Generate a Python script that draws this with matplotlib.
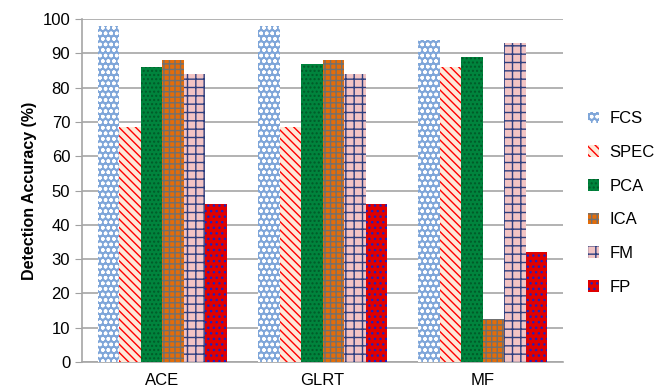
import numpy as np
import matplotlib.pyplot as plt

plt.rcParams['font.family'] = ['Liberation Sans', 'DejaVu Sans']
plt.rcParams['hatch.linewidth'] = 1.0

# Data
categories = ["ACE", "GLRT", "MF"]
methods = ["FCS", "SPEC", "PCA", "ICA", "FM", "FP"]
fcs = [98, 98, 94]
spec = [68.5, 68.5, 86]
pca = [86, 87, 89]
ica = [88, 88, 12.5]
fm = [84, 84, 93]
fp = [46, 46, 32]
series = [fcs, spec, pca, ica, fm, fp]

# fill patterns (face, hatch, hatch colour)
styles = [
    ("#7FA6D9", "ooo", "white"),
    ("#FDE9D9", "\\\\\\\\", "#FF0000"),
    ("#00843D", "....", "#005A28"),
    ("#E36C09", "+++", "#707070"),
    ("#F2C4C4", "--||", "#2E3F7F"),
    ("#E00000", "...", "#2020C0"),
]

fig = plt.figure(figsize=(6.61, 3.88), dpi=100)
ax = fig.add_axes([0.124, 0.067, 0.728, 0.884])

x = np.arange(len(categories))
width = 0.134

for i, (vals, (face, hatch, hcol)) in enumerate(zip(series, styles)):
    pos = x + (i - 2.5) * width
    ax.bar(
        pos,
        vals,
        width,
        color=face,
        edgecolor=hcol,
        hatch=hatch,
        linewidth=0,
        label=methods[i],
        zorder=3
    )

ax.set_xlim(-0.5, 2.5)
ax.set_ylim(0, 100)
ax.set_yticks(range(0, 101, 10))
ax.set_xticks(x)
ax.set_xticklabels(categories, fontsize=12)
ax.tick_params(axis="y", labelsize=12, length=5, color="#A0A0A0")
ax.tick_params(axis="x", length=0, pad=8)
ax.set_ylabel("Detection Accuracy (%)", fontsize=11.5, fontweight="bold")

ax.grid(axis="y", color="#A6A6A6", linewidth=1.2, zorder=0)
for side in ["top", "right"]:
    ax.spines[side].set_visible(False)
ax.spines["left"].set_color("#A6A6A6")
ax.spines["bottom"].set_color("#A6A6A6")
ax.spines["left"].set_linewidth(1.2)
ax.spines["bottom"].set_linewidth(1.2)

ax.legend(
    loc="center left",
    bbox_to_anchor=(1.02, 0.464),
    frameon=False,
    fontsize=12,
    handlelength=0.7,
    handleheight=0.7,
    labelspacing=1.12,
    handletextpad=0.6
)

plt.savefig("out.png", dpi=100)
